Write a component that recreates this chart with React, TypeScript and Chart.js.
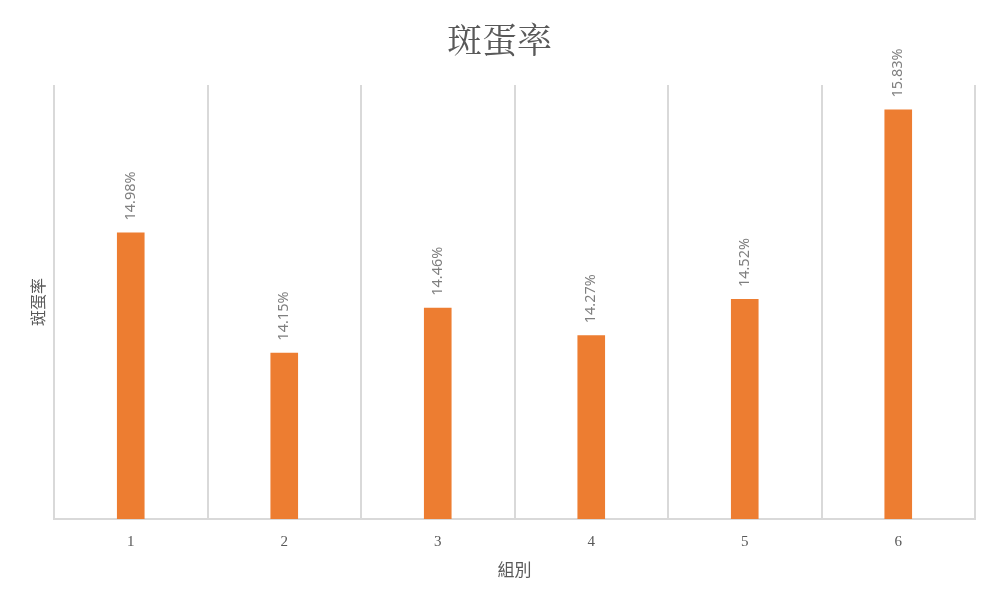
import React, { useEffect, useRef } from "react";
import Chart from "chart.js/auto";

const groups = ["1", "2", "3", "4", "5", "6"];
const spotRate = [14.98, 14.15, 14.46, 14.27, 14.52, 15.83];
const yMin = 13;
const yMax = 16;
const chartTitle = "斑蛋率";

// data labels rotated above each bar, plus the page-centred title
const barLabels = {
    id: "barLabels",
    afterDatasetsDraw(chart: any) {
        const ctx = chart.ctx;
        const meta = chart.getDatasetMeta(0);
        ctx.save();
        ctx.fillStyle = "#7f7f7f";
        ctx.font = "14.5px 'Noto Sans', sans-serif";
        ctx.textAlign = "left";
        ctx.textBaseline = "middle";
        meta.data.forEach((bar: any, i: number) => {
            ctx.save();
            ctx.translate(bar.x, bar.y - 12);
            ctx.rotate(-Math.PI / 2);
            ctx.fillText(spotRate[i].toFixed(2) + "%", 0, 0);
            ctx.restore();
        });
        ctx.fillStyle = "#595959";
        ctx.font = "35px 'Noto Serif CJK TC', 'Noto Sans CJK TC', serif";
        ctx.textAlign = "center";
        ctx.fillText(chartTitle, chart.width / 2, 40);
        ctx.restore();
    },
};

const App = () => {
    const canvasRef = useRef<HTMLCanvasElement | null>(null);

    useEffect(() => {
        document.body.style.margin = "0";
        const ctx = canvasRef.current?.getContext("2d") as CanvasRenderingContext2D;
        if (!ctx) return;

        const chart = new Chart(ctx, {
            type: "bar",
            data: {
                labels: groups,
                datasets: [
                    {
                        label: chartTitle,
                        data: spotRate,
                        backgroundColor: "#ED7D31",
                        barPercentage: 0.18,
                        categoryPercentage: 1,
                    },
                ],
            },
            options: {
                animation: false,
                responsive: false,
                layout: { padding: { top: 85, right: 24, bottom: 0, left: 0 } },
                plugins: {
                    legend: { display: false },
                    tooltip: { enabled: false },
                    title: { display: false },
                },
                scales: {
                    x: {
                        grid: { display: true, color: "#d9d9d9", lineWidth: 2, offset: true, drawTicks: false },
                        border: { display: true, color: "#d9d9d9", width: 2 },
                        ticks: {
                            color: "#595959",
                            padding: 14,
                            font: { size: 15, family: "'Liberation Serif', serif" },
                        },
                        title: {
                            display: true,
                            text: "組別",
                            color: "#595959",
                            font: { size: 17, family: "'Noto Sans CJK TC', sans-serif" },
                            padding: { top: 0, bottom: 28 },
                        },
                        afterFit: (scale: any) => {
                            scale.height = 89;
                        },
                    },
                    y: {
                        min: yMin,
                        max: yMax,
                        grid: { display: false },
                        border: { display: false },
                        ticks: { display: false },
                        title: {
                            display: true,
                            text: "斑蛋率",
                            color: "#595959",
                            font: { size: 16, family: "'Noto Sans CJK TC', sans-serif" },
                            padding: { top: 28, bottom: 0 },
                        },
                        afterFit: (scale: any) => {
                            scale.width = 54;
                        },
                    },
                },
            },
            plugins: [barLabels],
        });

        return () => {
            chart.destroy();
        };
    }, []);

    return (
        <div style={{ width: 999, height: 608 }}>
            <canvas ref={canvasRef} width={999} height={608} style={{ display: "block" }} />
        </div>
    );
};

export default App;
